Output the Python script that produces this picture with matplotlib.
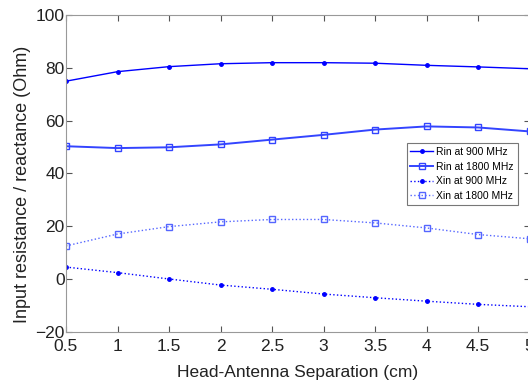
import matplotlib
matplotlib.use("Agg")
import matplotlib.pyplot as plt

# head-antenna separation (cm)
sep = [0.5, 1.0, 1.5, 2.0, 2.5, 3.0, 3.5, 4.0, 4.5, 5.0]

rin_900  = [74.9, 78.5, 80.4, 81.5, 81.9, 81.9, 81.7, 80.9, 80.3, 79.6]
rin_1800 = [50.3, 49.6, 49.9, 51.0, 52.8, 54.6, 56.6, 57.8, 57.4, 55.9]
xin_900  = [4.6, 2.5, 0.1, -2.2, -3.8, -5.6, -7.0, -8.3, -9.5, -10.4]
xin_1800 = [12.6, 17.1, 19.9, 21.7, 22.6, 22.6, 21.3, 19.4, 16.9, 15.3]

plt.rcParams["font.family"] = ["Liberation Sans", "DejaVu Sans"]

fig = plt.figure(figsize=(5.28, 3.8), dpi=100)
ax = fig.add_axes([0.125, 0.126, 0.878, 0.835])

ax.plot(sep, rin_900, "-", color="#0000ff", lw=1.0, marker=".", ms=5,
        label="Rin at 900 MHz")
ax.plot(sep, rin_1800, "-", color="#3344ff", lw=1.4, marker="s", ms=4,
        mfc="none", label="Rin at 1800 MHz")
ax.plot(sep, xin_900, ":", color="#0000ff", lw=1.0, marker=".", ms=5,
        label="Xin at 900 MHz")
ax.plot(sep, xin_1800, ":", color="#5566ff", lw=1.0, marker="s", ms=4,
        mfc="none", label="Xin at 1800 MHz")

ax.set_xlim(0.5, 5)
ax.set_ylim(-20, 100)
ax.set_xticks(sep)
ax.set_xticklabels(["0.5", "1", "1.5", "2", "2.5", "3", "3.5", "4", "4.5", "5"])
ax.set_yticks([-20, 0, 20, 40, 60, 80, 100])
ax.tick_params(direction="in", top=True, right=True, labelsize=12.5,
               length=4, color="#555555", labelcolor="#222222")
ax.tick_params(axis="x", pad=5)
ax.tick_params(axis="y", pad=1)
for s in ax.spines.values():
    s.set_color("#999999")

ax.set_xlabel("Head-Antenna Separation (cm)", fontsize=12.5, labelpad=8,
              color="#222222")
ax.set_ylabel("Input resistance / reactance (Ohm)", fontsize=13, labelpad=4,
              color="#222222")
ax.yaxis.set_label_coords(-0.076, 0.465)

leg = ax.legend(loc="upper left", bbox_to_anchor=(0.735, 0.595), fontsize=7.5,
                frameon=True, fancybox=False, edgecolor="#555555",
                handlelength=2.2, handletextpad=0.3, borderpad=0.35,
                labelspacing=0.45, borderaxespad=0)
leg.get_frame().set_linewidth(0.8)

fig.savefig("out.png", dpi=100)
